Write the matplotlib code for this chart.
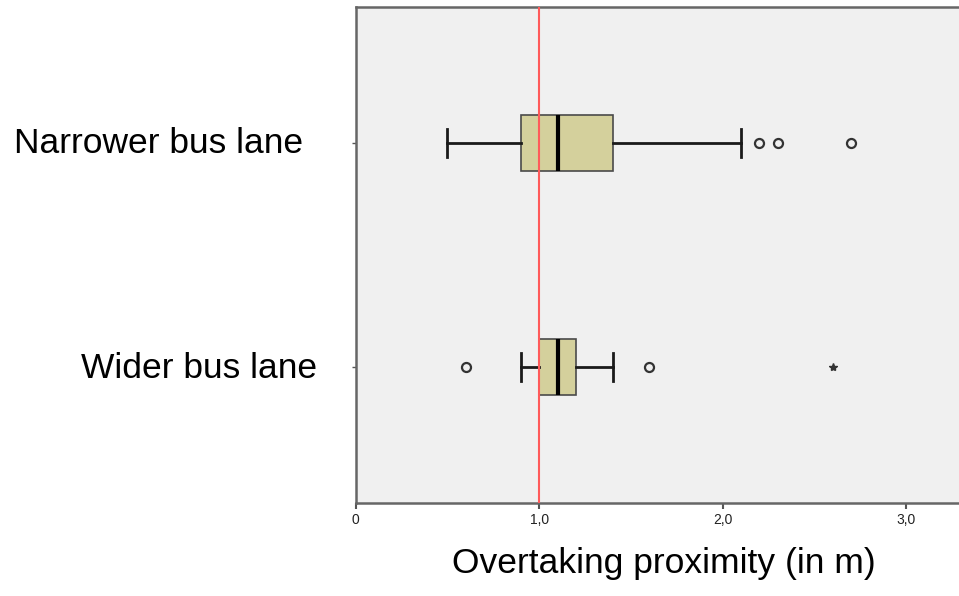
import matplotlib
matplotlib.use("Agg")
import matplotlib.pyplot as plt
from matplotlib.transforms import blended_transform_factory, offset_copy

plt.rcParams["font.family"] = ["Liberation Sans", "DejaVu Sans"]

# box statistics
categories = ["Narrower bus lane", "Wider bus lane"]
positions = [2, 1]
whisker_lo = [0.5, 0.9]
q1 = [0.9, 1.0]
median = [1.1, 1.1]
q3 = [1.4, 1.2]
whisker_hi = [2.1, 1.4]
outliers = [[2.2, 2.3, 2.7], [0.6, 1.6]]
extremes = [[], [2.6]]

xticks = [0, 1.0, 2.0, 3.0]
xtick_labels = ["0", "1,0", "2,0", "3,0"]
reference_line = 1.0

W, H = 959, 596
fig = plt.figure(figsize=(W / 100, H / 100), dpi=100)
ax = fig.add_axes([355.7 / W, (H - 503) / H, (W - 355.7) / W, (503 - 6.5) / H])
ax.set_facecolor("#f0f0f0")

stats = []
for i, name in enumerate(categories):
    stats.append(dict(label=name, whislo=whisker_lo[i], q1=q1[i], med=median[i],
                      q3=q3[i], whishi=whisker_hi[i], fliers=outliers[i]))

ax.axvline(reference_line, color="#ff5a5a", lw=1.5, zorder=3)

ax.bxp(stats, positions=positions, vert=False, widths=0.25, patch_artist=True,
       showfliers=True,
       boxprops=dict(facecolor="#d4d09c", edgecolor="#4a4a4a", lw=1.2),
       medianprops=dict(color="black", lw=3),
       whiskerprops=dict(color="#1a1a1a", lw=2),
       capprops=dict(color="#1a1a1a", lw=2),
       capwidths=0.125,
       flierprops=dict(marker="o", markersize=6.5, markerfacecolor="none",
                       markeredgecolor="#333333", markeredgewidth=1.6),
       zorder=2)
for pos, ext in zip(positions, extremes):
    if ext:
        ax.plot(ext, [pos] * len(ext), ls="none", marker="*", markersize=6,
                color="#333333")

ax.set_xlim(0, (W - 355.7) / 183.5)
ax.set_ylim(0.393, 2.609)
ax.set_xticks(xticks)
ax.set_xticklabels(xtick_labels, fontsize=10, color="#222222")
ax.set_yticks(positions)
ax.set_yticklabels([])
ax.tick_params(axis="x", direction="out", length=4, width=1.5, color="#555555", pad=3)
ax.tick_params(axis="y", direction="out", length=3, width=1, color="#555555")

for s in ["left", "bottom", "top"]:
    ax.spines[s].set_color("#666666")
    ax.spines[s].set_linewidth(1.8)
ax.spines["right"].set_visible(False)

# category labels sit well left of the axes, right-aligned
trans = blended_transform_factory(fig.transFigure, ax.transData)
label_right = [303, 317]
for name, pos, xr in zip(categories, positions, label_right):
    ax.text(xr / W, pos, name, transform=offset_copy(trans, fig, y=-10.5, units="dots"),
            ha="right", va="baseline", fontsize=25.5, color="black", clip_on=False)

fig.text(664 / W, (H - 573) / H, "Overtaking proximity (in m)", ha="center",
         va="baseline", fontsize=25.5, color="black")

fig.savefig("out.png", dpi=100)
